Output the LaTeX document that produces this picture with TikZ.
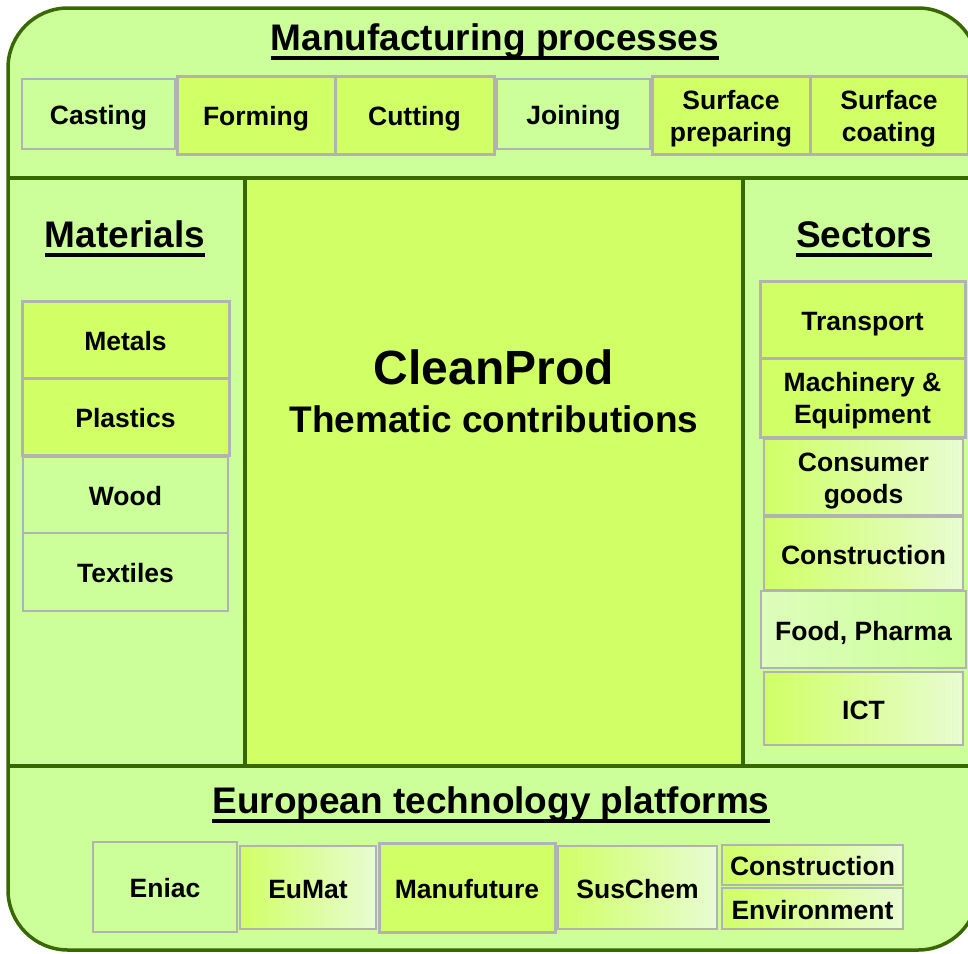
\documentclass[tikz,border=0pt]{standalone}
\usepackage{fontspec}
\setmainfont{Liberation Sans}
\newcommand{\ulthick}[1]{\setbox0\hbox{#1}\copy0\llap{\vrule width\wd0 height -6pt depth 10pt}}
\definecolor{framegreen}{RGB}{56,104,0}
\definecolor{lightgreen}{RGB}{204,255,153}
\definecolor{brightgreen}{RGB}{208,255,102}
\definecolor{palegreen}{RGB}{232,252,210}
\definecolor{boxgray}{RGB}{178,178,178}

\begin{document}
\begin{tikzpicture}[x=1pt,y=-1pt,
    box/.style={draw=boxgray, line width=2pt, inner sep=0pt, outer sep=0pt, align=center,
      text height=26pt, text depth=5pt, font=\fontsize{26.5}{32}\selectfont\bfseries},
    twolines/.style={text height=57pt, text depth=5pt},
    light/.style={box, fill=lightgreen},
    bright/.style={box, fill=brightgreen, line width=3pt},
    fade/.style={box, left color=brightgreen, right color=palegreen},
    heading/.style={inner sep=0pt, anchor=base, font=\fontsize{37}{40}\selectfont\bfseries}]
    \useasboundingbox (0,0) rectangle (968,953);
    \fill[lightgreen, rounded corners=60] (8,8) rectangle (978,950);
    \fill[brightgreen] (245,178) rectangle (743,766);
    \draw[framegreen, line width=3.5pt] (8,178) -- (978,178);
    \draw[framegreen, line width=3.5pt] (8,766) -- (978,766);
    \draw[framegreen, line width=3.5pt] (245,178) -- (245,766);
    \draw[framegreen, line width=3.5pt] (743,178) -- (743,766);
    \draw[framegreen, line width=3.5pt, rounded corners=60] (8,8) rectangle (978,950);

    \node[heading] (proctitle) at (495,50) {\ulthick{Manufacturing processes}};
    \node[light, minimum width=153, minimum height=70] (cast) at (98.5,114) {Casting};
    \node[bright, minimum width=158, minimum height=78] (form) at (256,115) {Forming};
    \node[bright, minimum width=159, minimum height=78] (cut) at (414.5,115) {Cutting};
    \node[light, minimum width=153, minimum height=70] (join) at (573.5,114) {Joining};
    \node[bright, twolines, minimum width=158, minimum height=78] (prep) at (731,115) {Surface\\preparing};
    \node[bright, twolines, minimum width=158, minimum height=78] (coat) at (889,115) {Surface\\coating};

    \node[heading] (mattitle) at (125,247) {\ulthick{Materials}};
    \node[bright, minimum width=207, minimum height=77] (metals) at (125.5,339.5) {Metals};
    \node[bright, minimum width=207, minimum height=77] (plastics) at (125.5,416.5) {Plastics};
    \node[light, minimum width=205, minimum height=76] (wood) at (125.5,495) {Wood};
    \node[light, minimum width=205, minimum height=78] (textiles) at (125.5,572) {Textiles};

    \node[inner sep=0pt, anchor=base, font=\fontsize{48}{50}\selectfont\bfseries] (cleanprod) at (494,384) {CleanProd};
    \node[heading] (thematic) at (494,432) {Thematic contributions};

    \node[heading] (sectitle) at (864,247) {\ulthick{Sectors}};
    \node[bright, minimum width=205, minimum height=77] (transport) at (862.5,319.5) {Transport};
    \node[bright, twolines, minimum width=205, minimum height=79] (machinery) at (862.5,397.5) {Machinery \&\\Equipment};
    \node[fade, twolines, minimum width=199, minimum height=76] (consumer) at (863.5,477) {Consumer\\goods};
    \node[fade, minimum width=199, minimum height=73] (construct) at (863.5,553.5) {Construction};
    \node[box, left color=palegreen!60!lightgreen, right color=lightgreen, minimum width=205, minimum height=77] (food) at (863.5,629.5) {Food, Pharma};
    \node[fade, minimum width=199, minimum height=73] (ict) at (863.5,708.5) {ICT};

    \node[heading] (etptitle) at (491,813) {\ulthick{European technology platforms}};
    \node[light, minimum width=144, minimum height=90] (eniac) at (165,887) {Eniac};
    \node[fade, minimum width=136, minimum height=83] (eumat) at (308,887.5) {EuMat};
    \node[bright, minimum width=176, minimum height=89] (manuf) at (467,887.5) {Manufuture};
    \node[fade, minimum width=159, minimum height=83] (suschem) at (637.5,887.5) {SusChem};
    \node[fade, minimum width=181, minimum height=40] (etpcons) at (812.5,865) {Construction};
    \node[fade, minimum width=181, minimum height=41] (etpenv) at (812.5,908.5) {Environment};
\end{tikzpicture}
\end{document}
